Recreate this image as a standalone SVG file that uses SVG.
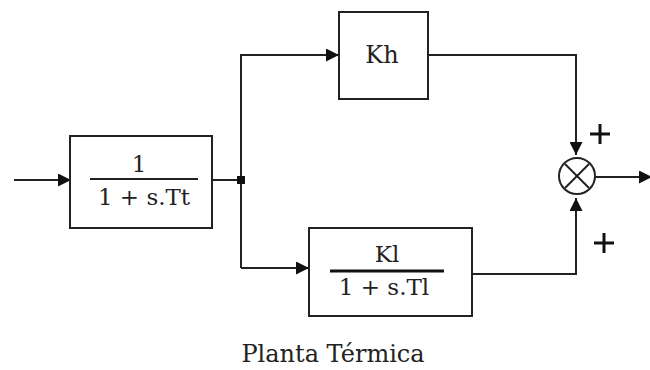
<svg xmlns="http://www.w3.org/2000/svg" width="650" height="370" viewBox="0 0 650 370">
<style>
.box{fill:none;stroke:#222;stroke-width:2}
.ln{fill:none;stroke:#222;stroke-width:2}
.t{font-family:"DejaVu Serif","Liberation Serif",serif;fill:#222;text-anchor:middle}
.bar{stroke:#222;stroke-width:2}
.plus{stroke:#111;stroke-width:3}
</style>
<defs>
<marker id="ah" viewBox="0 0 10 10" refX="10" refY="5" markerWidth="14" markerHeight="13" markerUnits="userSpaceOnUse" orient="auto">
<path d="M0,0 L10,5 L0,10 z" fill="#111"/>
</marker>
</defs>
<rect width="650" height="370" fill="#fff"/>
<g id="connectors">
<line class="ln" x1="14" y1="180" x2="71" y2="180" marker-end="url(#ah)"/>
<line class="ln" x1="212" y1="180" x2="241" y2="180"/>
<polyline class="ln" points="241,268 241,55 339,55" marker-end="url(#ah)"/>
<line class="ln" x1="241" y1="268" x2="309" y2="268" marker-end="url(#ah)"/>
<polyline class="ln" points="428,55 576,55 576,155" marker-end="url(#ah)"/>
<polyline class="ln" points="472,274 576,274 576,198" marker-end="url(#ah)"/>
<line class="ln" x1="595" y1="177" x2="652" y2="177" marker-end="url(#ah)"/>
<rect x="237" y="176" width="8" height="8" fill="#111"/>
</g>
<g id="block-tt">
<rect class="box" x="70" y="136" width="142" height="92"/>
<text class="t" x="139" y="172" font-size="23">1</text>
<line class="bar" x1="90" y1="179" x2="198" y2="179"/>
<text class="t" x="144" y="205" font-size="23">1 + s.Tt</text>
</g>
<g id="block-kh">
<rect class="box" x="339" y="12" width="89" height="87"/>
<text class="t" x="382" y="63" font-size="24">Kh</text>
</g>
<g id="block-kl">
<rect class="box" x="309" y="228" width="163" height="88"/>
<text class="t" x="387" y="262" font-size="23">Kl</text>
<line x1="330" y1="271" x2="444" y2="271" stroke="#111" stroke-width="3"/>
<text class="t" x="384" y="295" font-size="23">1 + s.Tl</text>
</g>
<g id="sum">
<circle cx="577" cy="176" r="18" fill="#fff" stroke="#222" stroke-width="2"/>
<line class="ln" x1="565" y1="164" x2="589" y2="188" stroke-width="1.5"/>
<line class="ln" x1="589" y1="164" x2="565" y2="188" stroke-width="1.5"/>
<line class="plus" x1="590" y1="134" x2="610" y2="134"/>
<line class="plus" x1="600" y1="124" x2="600" y2="144"/>
<line class="plus" x1="594" y1="243" x2="614" y2="243"/>
<line class="plus" x1="604" y1="233" x2="604" y2="253"/>
</g>
<text class="t" x="333" y="362" font-size="24">Planta Térmica</text>
</svg>
